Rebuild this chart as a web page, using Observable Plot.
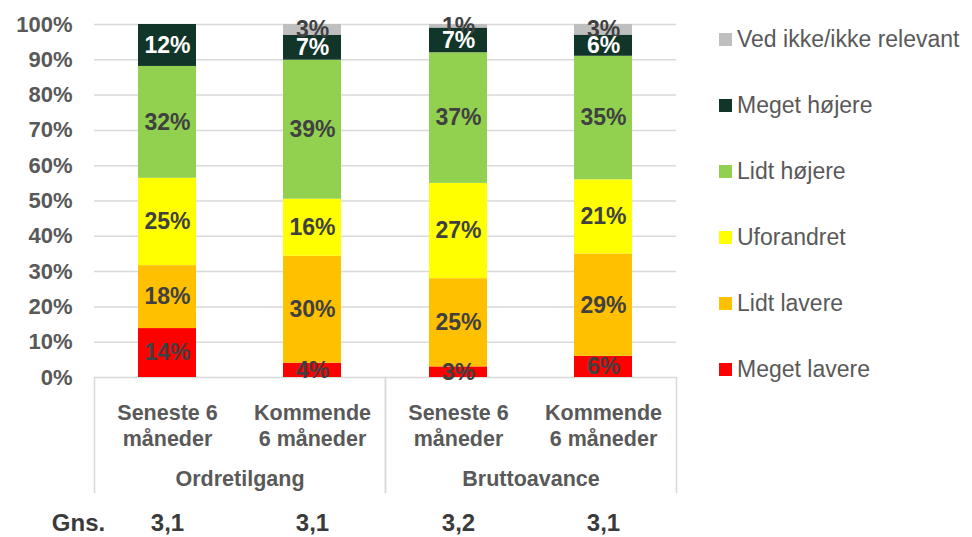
<!DOCTYPE html>
<html>
<head>
<meta charset="utf-8">
<script src="https://cdn.jsdelivr.net/npm/d3@7"></script>
<script src="https://cdn.jsdelivr.net/npm/@observablehq/plot@0.6"></script>
<style>
  html, body { margin: 0; padding: 0; background: #fff; }
  #wrap { position: relative; width: 972px; height: 537px; font-family: "Liberation Sans", Arial, sans-serif; }
  #chart { position: absolute; left: 0; top: 0; }
  #legend { position: absolute; left: 719px; top: 6.5px; }
  .item { height: 66px; display: flex; align-items: center; font-size: 23px; color: #595959; white-space: nowrap; }
  .sw { width: 13px; height: 13px; margin-right: 5px; flex: none; }
</style>
</head>
<body>
<div id="wrap"><div id="chart"></div><div id="legend"></div></div>
<script>
// ---- data ----
const groupKeys = ["Ordretilgang", "Bruttoavance"];
const periodKeys = ["Seneste 6 måneder", "Kommende 6 måneder"];
const periodLabels = ["Seneste 6\nmåneder", "Kommende\n6 måneder"];
const colGroups = ["Ordretilgang", "Ordretilgang", "Bruttoavance", "Bruttoavance"];
const colPeriods = ["Seneste 6 måneder", "Kommende 6 måneder", "Seneste 6 måneder", "Kommende 6 måneder"];

const categories = ["Meget lavere", "Lidt lavere", "Uforandret", "Lidt højere", "Meget højere", "Ved ikke/ikke relevant"];
const colors = ["#FF0000", "#FFC000", "#FFFF00", "#92D050", "#12352A", "#BFBFBF"];

const megetLavere = [14, 4, 3, 6];
const lidtLavere  = [18, 30, 25, 29];
const uforandret  = [25, 16, 27, 21];
const lidtHojere  = [32, 39, 37, 35];
const megetHojere = [12, 7, 7, 6];
const vedIkke     = [0, 3, 1, 3];

const gnsLabel = "Gns.";
const gnsValues = ["3,1", "3,1", "3,2", "3,1"];

const yTicks = [0, 0.1, 0.2, 0.3, 0.4, 0.5, 0.6, 0.7, 0.8, 0.9, 1];

// ---- build table ----
const series = [megetLavere, lidtLavere, uforandret, lidtHojere, megetHojere, vedIkke];
const data = categories.flatMap((c, ci) =>
  series[ci].map((v, i) => ({category: c, group: colGroups[i], period: colPeriods[i], value: v})));
const gnsRows = gnsValues.map((g, i) => ({group: colGroups[i], period: colPeriods[i], gns: g}));

// ---- layout ----
const W = 700, H = 537, mt = 24, mb = 160, ml = 93, mr = 24;
const plotH = H - mt - mb;
const font = "'Liberation Sans', Arial, sans-serif";
const tickColor = "#595959";
const labelColor = "#404040";

const stackOpts = {x: "period", fx: "group", y: "value", z: "category", order: categories, offset: "normalize"};

const chart = Plot.plot({
  width: W, height: H,
  marginTop: mt, marginBottom: mb, marginLeft: ml, marginRight: mr,
  style: {fontFamily: font, background: "white"},
  x: {domain: periodKeys, paddingInner: 0.6, paddingOuter: 0.3},
  fx: {domain: groupKeys, padding: 0},
  y: {domain: [0, 1]},
  color: {domain: categories, range: colors},
  marks: [
    Plot.gridY({ticks: yTicks, stroke: "#D9D9D9", strokeOpacity: 1, strokeWidth: 1.5}),
    Plot.frame({anchor: "left", insetTop: plotH, insetBottom: -115, stroke: "#D9D9D9", strokeWidth: 1.5}),
    Plot.frame({anchor: "right", insetTop: plotH, insetBottom: -115, stroke: "#D9D9D9", strokeWidth: 1.5}),
    Plot.barY(data, Plot.stackY({...stackOpts, fill: "category"})),
    Plot.text(data, Plot.stackY({...stackOpts,
      text: d => (d.category !== "Meget højere" && d.value > 0) ? d.value + "%" : null,
      fill: labelColor, fontSize: 23, fontWeight: "bold"})),
    Plot.text(data, Plot.stackY({...stackOpts,
      text: d => (d.category === "Meget højere" && d.value > 0) ? d.value + "%" : null,
      fill: "white", fontSize: 23, fontWeight: "bold"})),
    Plot.axisY({ticks: yTicks, tickFormat: d3.format(".0%"), tickSize: 0, tickPadding: 22,
      fontSize: 22, fontWeight: "bold", fill: tickColor, label: null}),
    Plot.axisX({tickSize: 0, tickPadding: 23, tickFormat: d => periodLabels[periodKeys.indexOf(d)],
      fontSize: 21.5, fontWeight: "bold", fill: tickColor, lineHeight: 1.25, label: null}),
    Plot.axisFx({anchor: "bottom", tickSize: 0, tickPadding: 93,
      fontSize: 21.5, fontWeight: "bold", fill: tickColor, label: null}),
    Plot.text(gnsRows, {x: "period", fx: "group", text: "gns", frameAnchor: "bottom", dy: 153,
      fontSize: 24, fontWeight: "bold", fill: "#3A3A3A"}),
    Plot.text([gnsLabel], {fx: () => groupKeys[0], text: d => d, frameAnchor: "bottom-left",
      textAnchor: "middle", dx: -16, dy: 153, fontSize: 24, fontWeight: "bold", fill: "#3A3A3A"})
  ]
});
document.getElementById("chart").appendChild(chart);

// ---- legend (top to bottom = reverse stack order) ----
const legend = document.getElementById("legend");
categories.slice().reverse().forEach(c => {
  const item = document.createElement("div");
  item.className = "item";
  const sw = document.createElement("span");
  sw.className = "sw";
  sw.style.background = colors[categories.indexOf(c)];
  const t = document.createElement("span");
  t.textContent = c;
  item.appendChild(sw); item.appendChild(t);
  legend.appendChild(item);
});
</script>
</body>
</html>
